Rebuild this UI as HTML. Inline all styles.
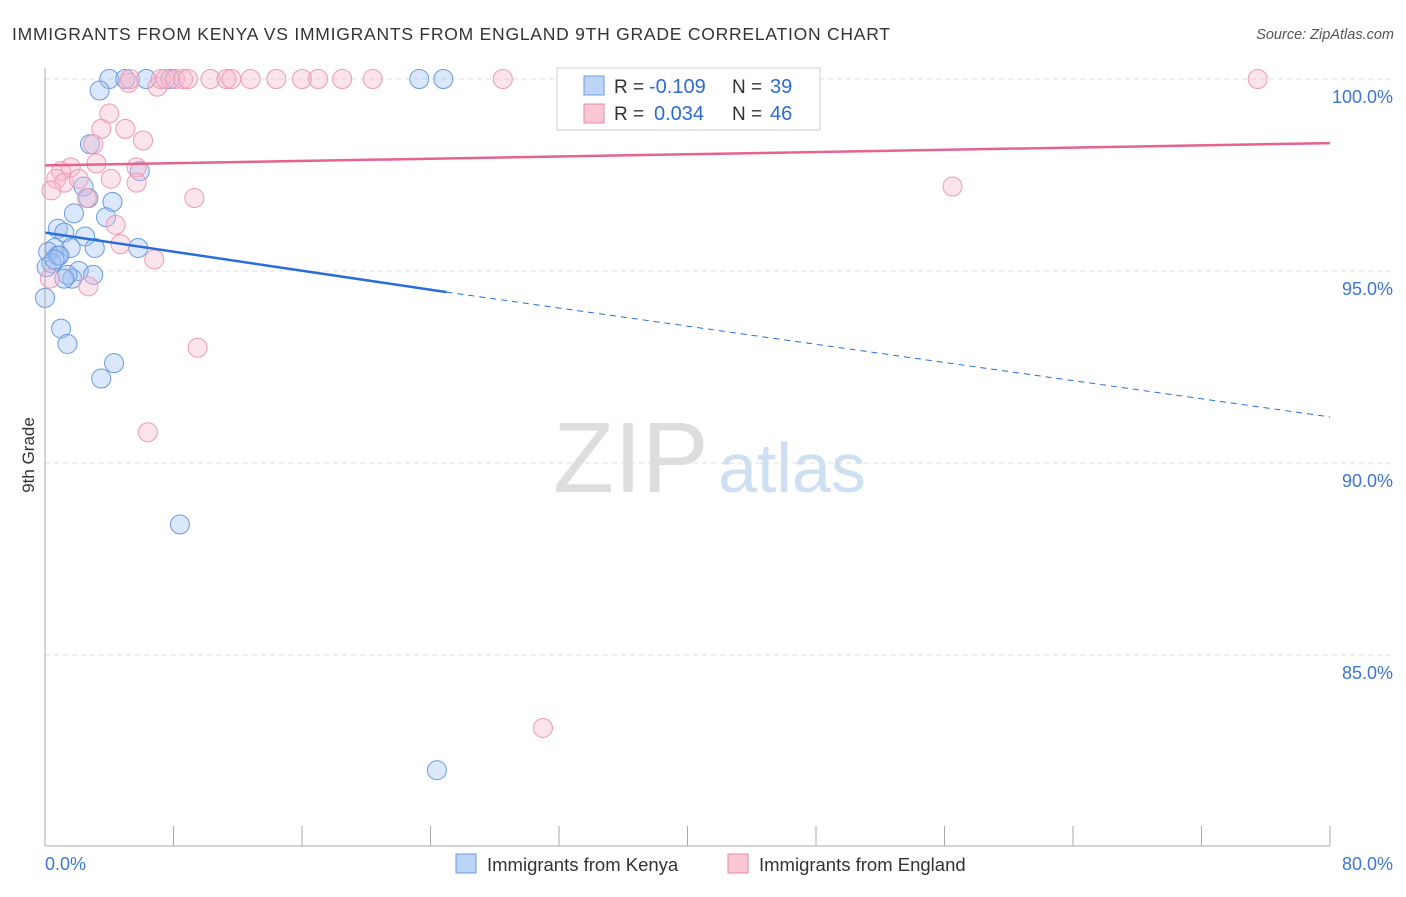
<!DOCTYPE html>
<html><head><meta charset="utf-8"><style>
body{margin:0;background:#fff;font-family:"Liberation Sans",sans-serif;}
svg text{font-family:"Liberation Sans",sans-serif;}
</style></head><body>
<svg width="1406" height="892" id="c">
<text x="12" y="40" font-size="17.5" fill="#333" textLength="878" lengthAdjust="spacing">IMMIGRANTS FROM KENYA VS IMMIGRANTS FROM ENGLAND 9TH GRADE CORRELATION CHART</text>
<text x="1394" y="39" font-size="14.5" fill="#555" text-anchor="end" font-style="italic">Source: ZipAtlas.com</text>
<text x="34" y="455" font-size="17" fill="#333" transform="rotate(-90 34 455)" text-anchor="middle">9th Grade</text>
<text x="553" y="492" font-size="100" fill="#ddd" font-family="Liberation Serif">ZIP</text>
<text x="718" y="492" font-size="70" fill="#cfdff2">atlas</text>
<g id="grid"></g><g id="marks"></g>
<line x1="45" y1="68" x2="45" y2="846" stroke="#aaa"/>
<line x1="45" y1="846" x2="1330" y2="846" stroke="#aaa"/>
<g>
<rect x="557" y="68" width="263" height="62" fill="#fff" stroke="#ccc"/>
<rect x="584" y="76" width="20" height="19" fill="#bcd4f5" stroke="#6a9be0"/>
<rect x="584" y="104" width="20" height="19" fill="#f9c6d4" stroke="#e88aa6"/>
<text x="614" y="93" font-size="19" fill="#333">R =</text>
<text x="649" y="93" font-size="20" fill="#2b6cd4">-0.109</text>
<text x="732" y="93" font-size="19" fill="#333">N =</text>
<text x="770" y="93" font-size="20" fill="#2b6cd4">39</text>
<text x="614" y="120" font-size="19" fill="#333">R =</text>
<text x="654" y="120" font-size="20" fill="#2b6cd4">0.034</text>
<text x="732" y="120" font-size="19" fill="#333">N =</text>
<text x="770" y="120" font-size="20" fill="#2b6cd4">46</text>
</g>
<g>
<rect x="456" y="854" width="20" height="19" fill="#bcd4f5" stroke="#6a9be0"/>
<text x="487" y="871" font-size="18.5" fill="#333">Immigrants from Kenya</text>
<rect x="728" y="854" width="20" height="19" fill="#f9c6d4" stroke="#e88aa6"/>
<text x="759" y="871" font-size="18.5" fill="#333">Immigrants from England</text>
</g>
</svg>
<script>
const yTicks=[100,95,90,85];
const xTickLabels=["0.0%","80.0%"];
const kenyaX=[4.0,5.0,6.3,7.8,23.3,24.8,3.4,2.8,5.9,2.4,2.7,4.2,1.8,3.8,0.8,1.2,2.5,1.6,3.1,5.8,0.6,0.2,0.8,0.4,0.1,2.1,3.0,1.7,1.4,0.0,1.0,1.4,4.3,3.5,8.4,24.4,0.9,0.6,1.2];
const kenyaY=[100,100,100,100,100,100,99.7,98.3,97.6,97.2,96.9,96.8,96.5,96.4,96.1,96.0,95.9,95.6,95.6,95.6,95.6,95.5,95.4,95.2,95.1,95.0,94.9,94.8,94.9,94.3,93.5,93.1,92.6,92.2,88.4,82.0,95.4,95.3,94.8];
const englandX=[5.2,7.0,7.2,7.5,8.1,8.6,8.9,10.3,11.3,11.6,12.8,14.4,16.0,17.0,18.5,20.4,28.5,33.0,75.5,4.0,5.0,3.5,3.0,6.1,3.2,1.0,1.6,0.7,1.2,2.1,4.1,5.7,5.7,0.4,2.6,9.3,4.4,4.7,6.8,2.7,0.3,9.5,6.4,31.0,56.5,5.3];
const englandY=[99.9,99.8,100,100,100,100,100,100,100,100,100,100,100,100,100,100,100,100,100,99.1,98.7,98.7,98.3,98.4,97.8,97.6,97.7,97.4,97.3,97.4,97.4,97.7,97.3,97.1,96.9,96.9,96.2,95.7,95.3,94.6,94.8,93.0,90.8,83.1,97.2,100];
const kenyaTrend=[[0,96.0],[25,94.45],[80,91.2]];
const englandTrend=[[0,97.75],[80,98.33]];
const X=v=>45+v*16.0625, Y=v=>79+(100-v)*38.4;
const ns="http://www.w3.org/2000/svg";
const g=document.getElementById('grid'),m=document.getElementById('marks'),svg=document.getElementById('c');
function mk(t,a,p){const e=document.createElementNS(ns,t);for(const k in a)e.setAttribute(k,a[k]);(p||m).appendChild(e);return e;}
yTicks.forEach(t=>{
const l=mk('line',{x1:45,x2:1395,y1:Y(t),y2:Y(t),stroke:'#ddd','stroke-dasharray':'5,4'},g);


const tx=mk('text',{x:1393,y:Y(t)+24,'font-size':18,fill:'#3b76d6','text-anchor':'end'},svg);
tx.textContent=t.toFixed(1)+'%';


});
for(let i=0;i<=10;i++){const l=mk('line',{x1:X(i*8),x2:X(i*8),y1:826,y2:846,stroke:'#aaa'},g);

}
xTickLabels.forEach((s,i)=>{const t=mk('text',{x:i?1393:45,y:870,'font-size':18,fill:'#3b76d6','text-anchor':i?'end':'start'},svg);t.textContent=s;

});
kenyaX.forEach((v,i)=>{const c=mk('circle',{cx:X(v),cy:Y(kenyaY[i]),r:9.5,fill:'rgba(160,192,242,0.38)',stroke:'#6a9be0','stroke-width':1});

});
englandX.forEach((v,i)=>{const c=mk('circle',{cx:X(v),cy:Y(englandY[i]),r:9.5,fill:'rgba(248,185,204,0.38)',stroke:'#ef9ab3','stroke-width':1});

});
let l=mk('line',{x1:X(kenyaTrend[0][0]),y1:Y(kenyaTrend[0][1]),x2:X(kenyaTrend[1][0]),y2:Y(kenyaTrend[1][1]),stroke:'#2a6dd6','stroke-width':2.5});


l=mk('line',{x1:X(kenyaTrend[1][0]),y1:Y(kenyaTrend[1][1]),x2:X(kenyaTrend[2][0]),y2:Y(kenyaTrend[2][1]),stroke:'#2a6dd6','stroke-width':1,'stroke-dasharray':'6,5'});


l=mk('line',{x1:X(englandTrend[0][0]),y1:Y(englandTrend[0][1]),x2:X(englandTrend[1][0]),y2:Y(englandTrend[1][1]),stroke:'#e4648c','stroke-width':2.5});


</script>
</body></html>
